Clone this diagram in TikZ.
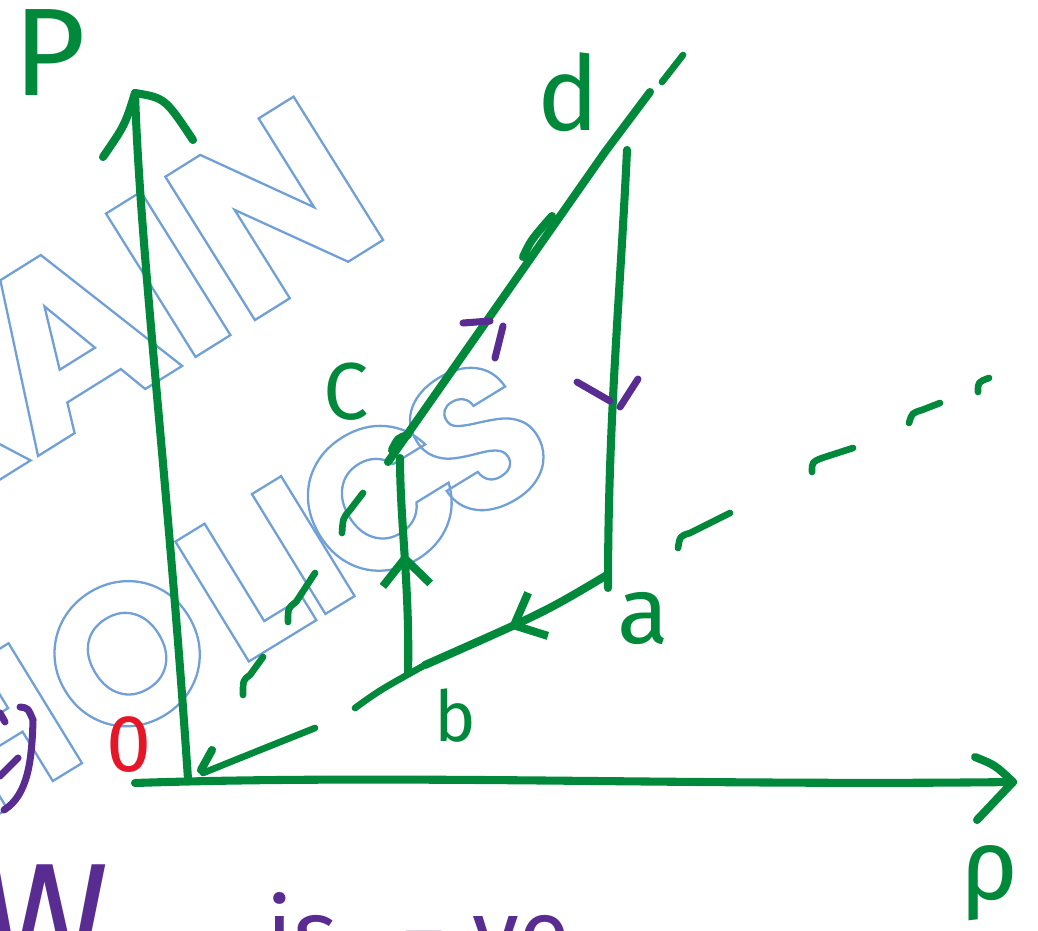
\documentclass[tikz,border=0pt]{standalone}
\usepackage{fontspec}
\setmainfont{Fira Sans}
\newfontfamily\markfont{Poppins}
\usetikzlibrary{arrows.meta,decorations.markings}

\definecolor{inkgreen}{RGB}{0,137,58}
\definecolor{inkpurple}{RGB}{88,44,145}
\definecolor{inkred}{RGB}{228,22,40}
\definecolor{markblue}{RGB}{112,160,214}

% outlined (hollow) letters for the watermark
\newcommand{\hollow}[1]{\special{pdf:literal direct 1 Tr 1.3 w}#1\special{pdf:literal direct 0 Tr}}

\begin{document}
\begin{tikzpicture}[x=0.02cm, y=-0.02cm,
  % Stroke styles
  ink/.style={draw=inkgreen, line width=4.6pt, line cap=round, line join=round},
  ray/.style={draw=inkgreen, line width=3.8pt, line cap=round, line join=round},
  tick/.style={draw=inkpurple, line width=4pt, line cap=round},
  % Mid-line arrow (hand drawn barb)
  flow/.style={postaction={decorate}, decoration={markings,
      mark=at position #1 with {\arrow{Straight Barb[length=15pt,width=27pt]}}}},
  % Label styles
  lbl/.style={text=inkgreen, inner sep=0pt},
  note/.style={text=inkpurple, inner sep=0pt, anchor=base west},
  wmA/.style={text=markblue, inner sep=0pt, anchor=base, rotate=32,
              font=\markfont\bfseries\fontsize{137}{137}\selectfont},
  wmB/.style={text=markblue, inner sep=0pt, anchor=base, rotate=31.5,
              font=\markfont\bfseries\fontsize{114}{114}\selectfont},
]
\useasboundingbox (0,0) rectangle (1038,930);
\clip (0,0) rectangle (1038,930);

% === Watermark ===
\node[wmA] (wR) at (-28,497) {\hollow{R}};
\node[wmA] (wA) at (110,411) {\hollow{A}};
\node[wmA] (wI) at (213,346) {\hollow{I}};
\node[wmA] (wN) at (319,280) {\hollow{N}};
\node[wmB] (vH) at (30,795)  {\hollow{H}};
\node[wmB] (vO) at (164,714) {\hollow{O}};
\node[wmB] (vL) at (279,643) {\hollow{L}};
\node[wmB] (vI) at (340,605) {\hollow{I}};
\node[wmB] (vC) at (416,559) {\hollow{C}};
\node[wmB] (vS) at (514,499) {\hollow{S}};

% === Axes ===
\coordinate (O) at (188,779);
\coordinate (ytop) at (135,93);
\coordinate (xstart) at (135,783);
\coordinate (xend) at (1013,782);

\draw[ink] (O) .. controls (168,480) and (140,250) .. (ytop);
\draw[ink] (ytop) .. controls (125,125) .. (103,157);
\draw[ink] (ytop) .. controls (165,98) .. (193,140);

\draw[ink] (xstart) .. controls (400,774) and (700,786) .. (xend);
\draw[ink] (xend) .. controls (995,765) .. (975,757);
\draw[ink] (xend) -- (977,820);

\node[lbl, font=\fontsize{71}{71}\selectfont] (Py) at (50,53) {P};
\node[lbl, font=\fontsize{57}{57}\selectfont] (rho) at (990,883) {ρ};
\node[lbl, text=inkred, font=\fontsize{46}{46}\selectfont] (zero) at (129,745) {0};

% === Cycle ===
\coordinate (a) at (607,575);
\coordinate (abot) at (608,588);
\coordinate (b) at (425,665);
\coordinate (bb) at (408,673);
\coordinate (c) at (400,458);
\coordinate (cc) at (388,462);
\coordinate (d) at (605,152);
\coordinate (dtop) at (627,150);
\coordinate (dext) at (650,92);

\draw[ink, flow=0.55] (a) .. controls (545,612) .. (b);
\draw[ink, flow=0.56] (bb) .. controls (410,590) and (400,520) .. (c);
\draw[ink] (cc) -- (d) -- (dext);
\draw[ink] (dtop) .. controls (620,300) and (608,420) .. (abot);

% small doubled strokes of the hand drawing
\draw[ink] (523,257) .. controls (531,240) .. (552,216);
\draw[ink] (392,450) .. controls (398,438) .. (408,435);
\draw[ink] (201,770) -- (212,750);

% purple direction marks
\draw[tick] (463,323) -- (490,321);
\draw[tick] (503,326) -- (495,358);
\draw[tick] (577,382) -- (610,401);
\draw[tick] (638,379) -- (620,407);

\node[lbl, font=\fontsize{59}{59}\selectfont] (dlbl) at (568,92) {d};
\node[lbl, font=\fontsize{46}{46}\selectfont] (clbl) at (346,392) {C};
\node[lbl, font=\fontsize{54}{54}\selectfont] (albl) at (643,618) {a};
\node[lbl, font=\fontsize{40}{40}\selectfont] (blbl) at (455,716) {b};

% === Isotherms through the origin (dashed by hand) ===
% lower ray through b and a
\draw[ray] (203,773) .. controls (260,750) .. (315,728);
\draw[ray] (355,708) .. controls (380,690) .. (b);
\draw[ray] (678,548) .. controls (680,536) .. (690,533) -- (730,513);
\draw[ray] (812,472) .. controls (812,462) .. (822,458) -- (853,448);
\draw[ray] (909,423) .. controls (912,413) .. (922,410) -- (940,403);
\draw[ray] (978,392) .. controls (978,382) .. (989,378);
% upper ray through c and d
\draw[ray] (243,695) .. controls (243,680) .. (250,675) -- (263,657);
\draw[ray] (288,622) .. controls (288,608) .. (296,602) -- (315,573);
\draw[ray] (342,533) .. controls (343,518) .. (350,510) -- (363,493);
\draw[ray] (662,82) -- (683,55);

% === Notes (cut off at the edges) ===
\draw[tick] (20,707) .. controls (28,708) .. (33,720) .. controls (32,760) and (28,795) .. (4,810);
\draw[tick] (18,758) -- (0,776);
\draw[tick] (0,713) -- (5,722);
\node[note, font=\fontsize{89}{89}\selectfont] (work) at (-20,972) {W};
\node[note, font=\fontsize{54}{54}\selectfont] (is) at (266,966) {is};
\node[note, font=\fontsize{54}{54}\selectfont] (minus) at (400,966) {−};
\node[note, font=\fontsize{54}{54}\selectfont] (ve) at (472,966) {ve};

\end{tikzpicture}
\end{document}
